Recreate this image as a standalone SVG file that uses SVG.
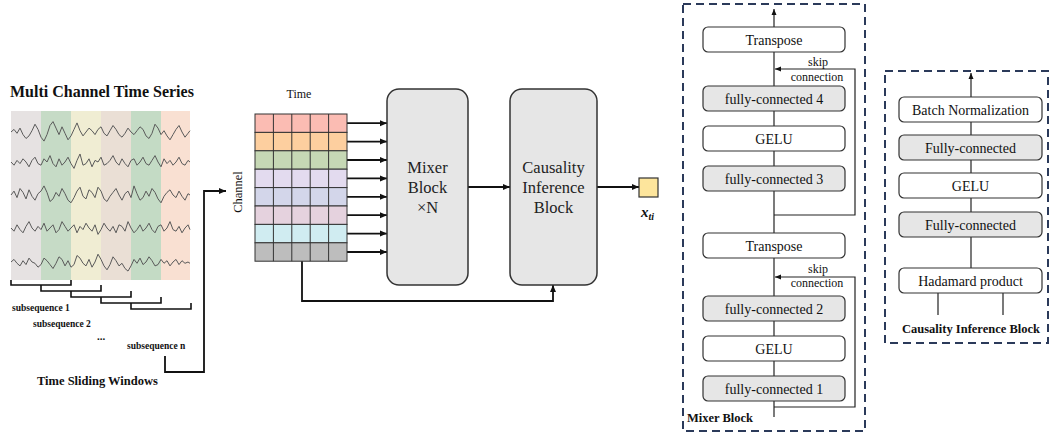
<svg xmlns="http://www.w3.org/2000/svg" width="1052" height="436" viewBox="0 0 1052 436">
<defs>
<style>
text{font-family:"Liberation Serif","Times New Roman",serif;fill:#111}
.b{font-weight:bold}
.lbl{font-size:14px;text-anchor:middle}
.big{font-size:16.5px;text-anchor:middle;fill:#222}
.sk{font-size:12px;text-anchor:middle}
.wave{fill:none;stroke:#5a5a5a;stroke-width:1;stroke-linejoin:round;vector-effect:non-scaling-stroke}
.br{fill:none;stroke:#111;stroke-width:1.6}
.c{fill:none;stroke:#111;stroke-width:1.8}
.ci{fill:none;stroke:#222;stroke-width:1.2}
.wbox{fill:#fff;stroke:#333;stroke-width:1.2}
.gbox{fill:#e6e6e6;stroke:#333;stroke-width:1.2}
.bigbox{fill:#e6e6e6;stroke:#333;stroke-width:1.5}
.dash{fill:none;stroke:#2b3a5a;stroke-width:2;stroke-dasharray:8 5}
.cell{stroke:#333;stroke-width:1}
</style>
<marker id="arr" markerUnits="userSpaceOnUse" markerWidth="8" markerHeight="8" refX="7" refY="4" orient="auto">
<path d="M0,1 L7,4 L0,7 z" fill="#111"/>
</marker>
<marker id="arrs" markerUnits="userSpaceOnUse" markerWidth="7" markerHeight="7" refX="6" refY="3.5" orient="auto">
<path d="M0,1 L6,3.5 L0,6 z" fill="#111"/>
</marker>
</defs>
<rect width="1052" height="436" fill="#fff"/>

<g id="time-series">
<text class="b" x="10" y="97" font-size="16">Multi Channel Time Series</text>
<rect x="11" y="111" width="30" height="169" fill="#e6e2e2"/>
<rect x="41" y="111" width="30" height="169" fill="#c6dbc6"/>
<rect x="71" y="111" width="30" height="169" fill="#f0edd3"/>
<rect x="101" y="111" width="30" height="169" fill="#eadfd5"/>
<rect x="131" y="111" width="30" height="169" fill="#c4dbc5"/>
<rect x="161" y="111" width="29" height="169" fill="#f9e0d2"/>
<polyline class="wave" transform="translate(0,132) scale(1,1.3) translate(0,-132)" points="11,132 14,130 17,133 20,129 23,134 26,137 29,135 32,131 35,126 38,130 41,136 44,139 47,134 50,127 53,124 56,129 59,134 62,128 65,133 68,138 71,135 74,130 77,125 80,131 83,135 86,132 89,129 92,131 95,134 98,130 101,128 104,133 107,135 110,131 113,127 116,130 119,134 122,136 125,133 128,129 131,132 134,134 137,131 140,128 143,130 146,135 149,137 152,133 155,126 158,129 161,134 164,131 167,135 170,138 173,134 176,130 179,127 182,132 185,136 188,133 190,131"/>
<polyline class="wave" transform="translate(0,162) scale(1,1.6) translate(0,-162)" points="11,162 14,164 17,161 20,163 23,160 26,162 29,165 32,161 35,159 38,163 41,164 44,160 47,162 50,158 53,163 56,165 59,160 62,164 65,162 68,159 71,163 74,166 77,161 80,157 83,164 86,163 89,160 92,165 95,161 98,162 101,159 104,164 107,163 110,161 113,158 116,162 119,164 122,160 125,163 128,165 131,161 134,160 137,164 140,162 143,159 146,163 149,164 152,161 155,158 158,162 161,165 164,160 167,163 170,161 173,164 176,162 179,159 182,163 185,164 188,161 190,162"/>
<polyline class="wave" transform="translate(0,195) scale(1,1.3) translate(0,-195)" points="11,195 14,192 17,197 20,190 23,193 26,198 29,191 32,196 35,199 38,194 41,192 44,188 47,193 50,200 53,198 56,193 59,196 62,190 65,194 68,199 71,201 74,197 77,192 80,189 83,196 86,198 89,191 92,193 95,197 98,189 101,192 104,198 107,200 110,196 113,193 116,190 119,195 122,199 125,194 128,192 131,197 134,188 137,194 140,199 143,197 146,192 149,196 152,190 155,193 158,198 161,201 164,196 167,193 170,191 173,195 176,197 179,192 182,196 185,199 188,194 190,195"/>
<polyline class="wave" transform="translate(0,228) scale(1,1.6) translate(0,-228)" points="11,228 14,230 17,226 20,229 23,231 26,227 29,224 32,228 35,230 38,227 41,229 44,225 47,230 50,228 53,226 56,231 59,229 62,224 65,227 68,230 71,228 74,226 77,231 80,227 83,229 86,225 89,228 92,230 95,226 98,232 101,229 104,225 107,228 110,230 113,227 116,231 119,226 122,227 125,230 128,224 131,228 134,231 137,229 140,226 143,230 146,228 149,225 152,229 155,231 158,227 161,226 164,230 167,228 170,224 173,229 176,230 179,227 182,231 185,228 188,226 190,229"/>
<polyline class="wave" transform="translate(0,262) scale(1,1.3) translate(0,-262)" points="11,262 14,260 17,263 20,265 23,261 26,264 29,259 32,262 35,263 38,266 41,264 44,259 47,261 50,264 53,267 56,263 59,258 62,260 65,265 68,261 71,266 74,264 77,257 80,259 83,263 86,265 89,260 92,266 95,262 98,256 101,260 104,265 107,268 110,264 113,258 116,261 119,265 122,263 125,267 128,269 131,265 134,260 137,263 140,259 143,264 146,262 149,258 152,261 155,265 158,264 161,260 164,263 167,261 170,265 173,262 176,260 179,264 182,261 185,263 188,262 190,263"/>
</g>

<g id="sliding-windows">
<path class="br" d="M11,280 V285 H71 V280"/>
<path class="br" d="M41,285 V291 H101 V285"/>
<path class="br" d="M71,291 V297 H131 V291"/>
<path class="br" d="M101,297 V303 H161 V297"/>
<path class="br" d="M131,303 V309 H191 V303"/>
<text class="b" x="12" y="311" font-size="9.5">subsequence 1</text>
<text class="b" x="33" y="327" font-size="9.5">subsequence 2</text>
<text class="b" x="97" y="340" font-size="11">...</text>
<text class="b" x="127" y="349" font-size="9.5">subsequence n</text>
<text class="b" x="37" y="385" font-size="12.5">Time Sliding Windows</text>
</g>

<g id="connectors">
<path class="c" d="M165,356 V372 H204 V191 H226" marker-end="url(#arr)"/>
<path class="c" d="M347,123.2 H387" marker-end="url(#arr)"/>
<path class="c" d="M347,141.6 H387" marker-end="url(#arr)"/>
<path class="c" d="M347,160 H387" marker-end="url(#arr)"/>
<path class="c" d="M347,178.4 H387" marker-end="url(#arr)"/>
<path class="c" d="M347,196.8 H387" marker-end="url(#arr)"/>
<path class="c" d="M347,215.2 H387" marker-end="url(#arr)"/>
<path class="c" d="M347,233.6 H387" marker-end="url(#arr)"/>
<path class="c" d="M347,252 H387" marker-end="url(#arr)"/>
<path class="c" d="M468,187 H510" marker-end="url(#arr)"/>
<path class="c" d="M597,187 H639" marker-end="url(#arr)"/>
<path class="c" d="M302,261 V301 H553 V285" marker-end="url(#arr)"/>
<path class="ci" d="M774,417 V9" marker-end="url(#arrs)"/>
<path class="ci" d="M774,215 H855 V69 H775" marker-end="url(#arrs)"/>
<path class="ci" d="M774,407 H855 V277 H775" marker-end="url(#arrs)"/>
<path class="ci" d="M971,268 V73" marker-end="url(#arrs)"/>
<path class="ci" d="M938,293 V315 M1003,293 V315"/>
</g>

<g id="input-grid">
<text x="299" y="98" font-size="12" text-anchor="middle">Time</text>
<text x="0" y="0" font-size="12.5" text-anchor="middle" transform="translate(242,192) rotate(-90)">Channel</text>
<g class="cell">
<rect x="255" y="114" width="92" height="18.4" fill="#fbbcb3"/>
<rect x="255" y="132.4" width="92" height="18.4" fill="#fdcf9f"/>
<rect x="255" y="150.8" width="92" height="18.4" fill="#c6d8b5"/>
<rect x="255" y="169.2" width="92" height="18.4" fill="#e3dbef"/>
<rect x="255" y="187.6" width="92" height="18.4" fill="#d3d6ea"/>
<rect x="255" y="206" width="92" height="18.4" fill="#e5d2de"/>
<rect x="255" y="224.4" width="92" height="18.4" fill="#d0ecf1"/>
<rect x="255" y="242.8" width="92" height="18.4" fill="#bdbdbd"/>
<path fill="none" d="M273.4,114 V261.2 M291.8,114 V261.2 M310.2,114 V261.2 M328.6,114 V261.2"/>
</g>
</g>

<g id="mixer-block-xN">
<rect class="bigbox" x="387" y="89" width="81" height="196" rx="12"/>
<text class="big" x="427.5" y="173">Mixer</text>
<text class="big" x="427.5" y="193">Block</text>
<text class="big" x="427.5" y="213">×N</text>
</g>

<g id="causality-inference-block">
<rect class="bigbox" x="510" y="89" width="87" height="196" rx="12"/>
<text class="big" x="553.5" y="173">Causality</text>
<text class="big" x="553.5" y="193">Inference</text>
<text class="big" x="553.5" y="213">Block</text>
</g>

<g id="output">
<rect x="639" y="178" width="19" height="19" fill="#fde59c" stroke="#333" stroke-width="1.2"/>
<text class="b" x="641" y="217" font-size="15" font-style="italic">x<tspan font-size="10" dy="3">ti</tspan></text>
</g>

<g id="mixer-detail">
<rect class="dash" x="683" y="4" width="182" height="427"/>
<g id="m-transpose1"><rect class="wbox" x="703" y="27" width="142" height="25" rx="5"/><text class="lbl" x="774" y="44.5">Transpose</text></g>
<g id="m-fc4"><rect class="gbox" x="703" y="86" width="142" height="25" rx="5"/><text class="lbl" x="774" y="103.5">fully-connected 4</text></g>
<g id="m-gelu2"><rect class="wbox" x="703" y="126" width="142" height="25" rx="5"/><text class="lbl" x="774" y="143.5">GELU</text></g>
<g id="m-fc3"><rect class="gbox" x="703" y="166" width="142" height="25" rx="5"/><text class="lbl" x="774" y="183.5">fully-connected 3</text></g>
<g id="m-transpose2"><rect class="wbox" x="703" y="233" width="142" height="25" rx="5"/><text class="lbl" x="774" y="250.5">Transpose</text></g>
<g id="m-fc2"><rect class="gbox" x="703" y="296" width="142" height="25" rx="5"/><text class="lbl" x="774" y="313.5">fully-connected 2</text></g>
<g id="m-gelu1"><rect class="wbox" x="703" y="336" width="142" height="25" rx="5"/><text class="lbl" x="774" y="353.5">GELU</text></g>
<g id="m-fc1"><rect class="gbox" x="703" y="376" width="142" height="25" rx="5"/><text class="lbl" x="774" y="393.5">fully-connected 1</text></g>
<text class="sk" x="818" y="66">skip</text>
<text class="sk" x="817" y="81">connection</text>
<text class="sk" x="818" y="273">skip</text>
<text class="sk" x="817" y="287">connection</text>
<text class="b" x="687" y="422" font-size="12.5">Mixer Block</text>
</g>

<g id="causality-detail">
<rect class="dash" x="885" y="71" width="163" height="272"/>
<g id="c-bn"><rect class="wbox" x="899" y="97" width="143" height="25" rx="5"/><text class="lbl" x="970.5" y="114.5">Batch Normalization</text></g>
<g id="c-fc2"><rect class="gbox" x="899" y="135" width="143" height="25" rx="5"/><text class="lbl" x="970.5" y="152.5">Fully-connected</text></g>
<g id="c-gelu"><rect class="wbox" x="899" y="173" width="143" height="25" rx="5"/><text class="lbl" x="970.5" y="190.5">GELU</text></g>
<g id="c-fc1"><rect class="gbox" x="899" y="212" width="143" height="25" rx="5"/><text class="lbl" x="970.5" y="229.5">Fully-connected</text></g>
<g id="c-hadamard"><rect class="wbox" x="899" y="268" width="143" height="25" rx="5"/><text class="lbl" x="970.5" y="285.5">Hadamard product</text></g>
<text class="b" x="971" y="333" font-size="12.5" text-anchor="middle">Causality Inference Block</text>
</g>
</svg>
